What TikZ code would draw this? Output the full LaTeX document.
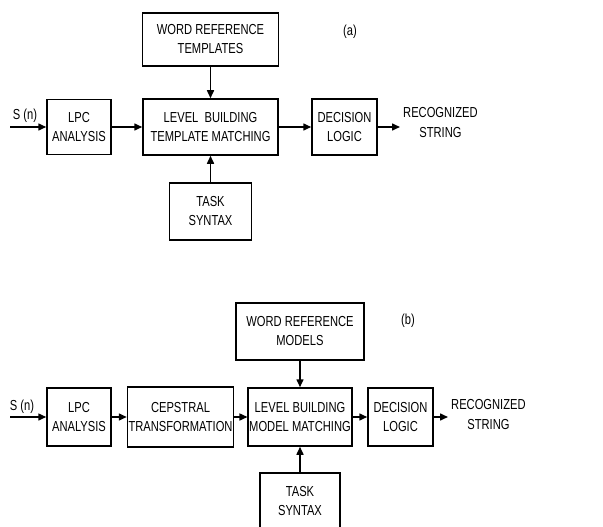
\documentclass[tikz,border=0pt]{standalone}
\usepackage{fontspec}
\setmainfont{Liberation Sans}[FakeStretch=0.77]
\usetikzlibrary{arrows.meta}

\begin{document}
\begin{tikzpicture}[x=1pt, y=-1pt,
    block/.style={draw, rectangle, line width=1.5pt, align=center, inner sep=1pt, font=\fontsize{14.5}{19}\selectfont},
    lbl/.style={align=center, inner sep=0pt, font=\fontsize{14.5}{20}\selectfont},
    flow/.style={-{Triangle[length=8pt,width=7pt]}, line width=1.5pt}]
            \useasboundingbox (0,0) rectangle (603,527);
            \clip (0,0) rectangle (603,527);

            % (a) template based recognizer
            \node[block, minimum width=136pt, minimum height=53pt] (refA) at (210.5,39.5) {WORD REFERENCE\\TEMPLATES};
            \node[block, minimum width=64pt, minimum height=55pt] (lpcA) at (79,127) {LPC\\ANALYSIS};
            \node[block, minimum width=135pt, minimum height=56pt] (levelA) at (210.5,127) {LEVEL\ \ BUILDING\\TEMPLATE MATCHING};
            \node[block, minimum width=65pt, minimum height=56pt] (decA) at (344.5,127) {DECISION\\LOGIC};
            \node[block, minimum width=82pt, minimum height=57pt] (taskA) at (210.5,211.5) {TASK\\SYNTAX};
            \node[lbl] (tagA) at (350,32) {(a)};
            \node[lbl] (sA) at (25,116) {S (n)};
            \node[lbl, anchor=west] (recA) at (403,123) {RECOGNIZED\\STRING};
            \coordinate (inA) at (10,127);
            \coordinate (outA) at (400,127);

            \draw[flow] (inA) -- (lpcA);
            \draw[flow] (lpcA) -- (levelA);
            \draw[flow] (levelA) -- (decA);
            \draw[flow] (decA) -- (outA);
            \draw[flow] (refA) -- (levelA);
            \draw[flow] (taskA) -- (levelA);

            % (b) model based recognizer
            \node[block, minimum width=128pt, minimum height=57pt] (refB) at (300,331.5) {WORD REFERENCE\\MODELS};
            \node[block, minimum width=64pt, minimum height=58pt] (lpcB) at (79,417) {LPC\\ANALYSIS};
            \node[block, minimum width=103pt, minimum height=60pt] (cepB) at (180.5,417) {CEPSTRAL\\TRANSFORMATION};
            \node[block, minimum width=103pt, minimum height=58pt] (levelB) at (300,417) {LEVEL BUILDING\\MODEL MATCHING};
            \node[block, minimum width=65pt, minimum height=58pt] (decB) at (400.5,417) {DECISION\\LOGIC};
            \node[block, minimum width=80pt, minimum height=57pt] (taskB) at (300,501.5) {TASK\\SYNTAX};
            \node[lbl] (tagB) at (408,321) {(b)};
            \node[lbl] (sB) at (22,407) {S (n)};
            \node[lbl, anchor=west] (recB) at (451,415) {RECOGNIZED\\STRING};
            \coordinate (inB) at (10,417);
            \coordinate (outB) at (448,417);

            \draw[flow] (inB) -- (lpcB);
            \draw[flow] (lpcB) -- (cepB);
            \draw[flow] (cepB) -- (levelB);
            \draw[flow] (levelB) -- (decB);
            \draw[flow] (decB) -- (outB);
            \draw[flow] (refB) -- (levelB);
            \draw[flow] (taskB) -- (levelB);
        \end{tikzpicture}
\end{document}
